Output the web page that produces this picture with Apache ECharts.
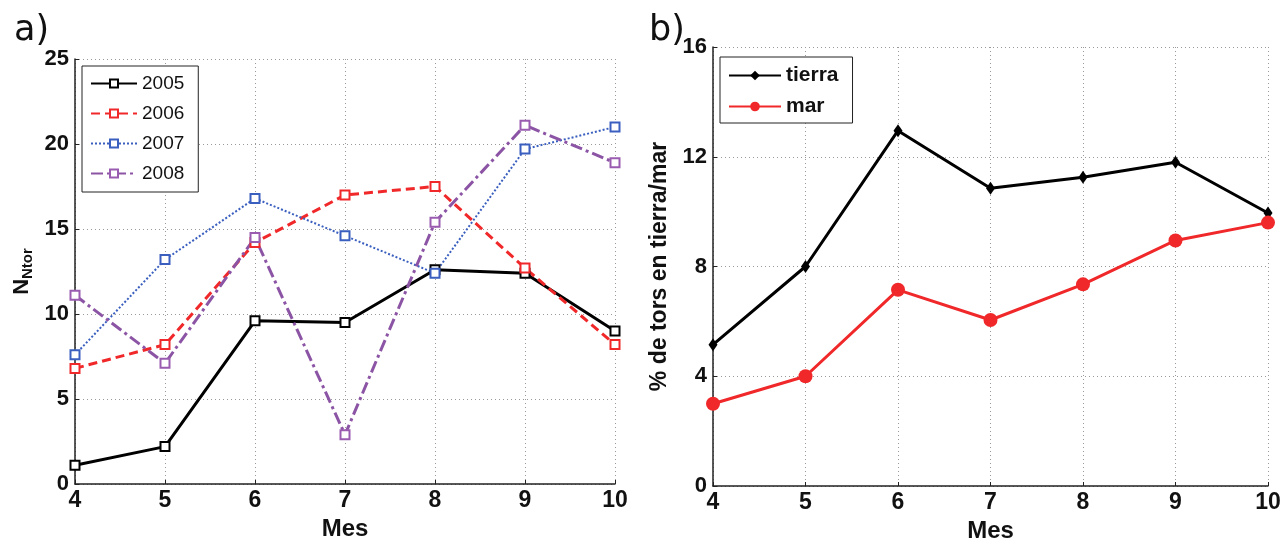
<!DOCTYPE html>
<html lang="en">
<head>
<meta charset="utf-8" />
<script src="https://cdn.jsdelivr.net/npm/echarts@6/dist/echarts.min.js"></script>
<title>Tornados por mes</title>
<style>
  html, body { margin: 0; padding: 0; background: #fff; }
  #chart { width: 1283px; height: 540px; }
</style>
</head>
<body>
<div id="chart"></div>
<script>
// meses (eje x)
var meses = [4, 5, 6, 7, 8, 9, 10];

// panel a) numero de tornados por año
var anios = ['2005', '2006', '2007', '2008'];
var n2005 = [1.1, 2.2, 9.6, 9.5, 12.6, 12.4, 9.0];
var n2006 = [6.8, 8.2, 14.2, 17.0, 17.5, 12.7, 8.2];
var n2007 = [7.6, 13.2, 16.8, 14.6, 12.4, 19.7, 21.0];
var n2008 = [11.1, 7.1, 14.5, 2.9, 15.4, 21.1, 18.9];

// panel b) porcentaje tierra / mar
var tierra = [5.15, 8.0, 12.95, 10.85, 11.25, 11.8, 9.95];
var mar = [3.0, 4.0, 7.15, 6.05, 7.35, 8.95, 9.6];

var ticksA = [0, 5, 10, 15, 20, 25];
var ticksB = [0, 4, 8, 12, 16];

function pares(xs, ys) {
  return xs.map(function (x, i) { return [x, ys[i]]; });
}

var fuente = '"Liberation Sans", Arial, sans-serif';
var grisGrid = { show: true, lineStyle: { color: '#999', type: [1, 3], width: 1 } };
var ejeLinea = { show: true, lineStyle: { color: '#222', width: 1.5 } };
var tickIn = { show: true, inside: true, length: 4, lineStyle: { color: '#222' } };

function ejeX(idx) {
  return {
    type: 'value', gridIndex: idx, min: 4, max: 10, interval: 1,
    name: 'Mes', nameLocation: 'middle', nameGap: 29,
    nameTextStyle: { fontFamily: fuente, fontWeight: 'bold', fontSize: 24, color: '#111' },
    axisLine: ejeLinea, axisTick: tickIn, splitLine: grisGrid,
    axisLabel: { fontFamily: fuente, fontWeight: 'bold', fontSize: 23, color: '#111', margin: 5 }
  };
}

var chart = echarts.init(document.getElementById('chart'));
var option = {
  animation: false,
  backgroundColor: '#fff',
  title: [
    { text: 'a)', left: 9, top: 8, textStyle: { fontFamily: 'DejaVu Sans', fontWeight: 'normal', fontSize: 35, color: '#111' } },
    { text: 'b)', left: 644, top: 8, textStyle: { fontFamily: 'DejaVu Sans', fontWeight: 'normal', fontSize: 35, color: '#111' } }
  ],
  grid: [
    { left: 75, top: 59, width: 540, height: 425, outerBoundsMode: 'none' },
    { left: 713, top: 47, width: 555, height: 439, outerBoundsMode: 'none' }
  ],
  legend: [
    {
      data: anios, left: 82, top: 66, orient: 'vertical',
      itemWidth: 46, itemHeight: 10, itemGap: 11,
      padding: [8, 14, 9, 8],
      borderColor: '#222', borderWidth: 1, backgroundColor: '#fff',
      textStyle: { fontFamily: fuente, fontSize: 19, color: '#111' }
    },
    {
      data: ['tierra', 'mar'], left: 720, top: 57, orient: 'vertical',
      itemWidth: 52, itemHeight: 12, itemGap: 10,
      padding: [8, 14, 6, 8],
      borderColor: '#222', borderWidth: 1, backgroundColor: '#fff',
      textStyle: { fontFamily: fuente, fontWeight: 'bold', fontSize: 21, color: '#111' }
    }
  ],
  xAxis: [ejeX(0), ejeX(1)],
  yAxis: [
    {
      type: 'value', gridIndex: 0, min: 0, max: 25, interval: 5,
      name: '{n|N}{s|Ntor}', nameLocation: 'middle', nameGap: 40,
      nameTextStyle: {
        color: '#111',
        rich: {
          n: { fontFamily: fuente, fontWeight: 'bold', fontSize: 22, color: '#111' },
          s: { fontFamily: fuente, fontWeight: 'bold', fontSize: 15, color: '#111', padding: [12, 0, 0, 0] }
        }
      },
      axisLine: ejeLinea, axisTick: tickIn, splitLine: grisGrid,
      axisLabel: {
        fontFamily: fuente, fontWeight: 'bold', fontSize: 22, color: '#111', margin: 6,
        formatter: function (v) { return ticksA.indexOf(v) >= 0 ? String(v) : ''; }
      }
    },
    {
      type: 'value', gridIndex: 1, min: 0, max: 16, interval: 4,
      name: '% de tors en tierra/mar', nameLocation: 'middle', nameGap: 42,
      nameTextStyle: { fontFamily: fuente, fontWeight: 'bold', fontSize: 23, color: '#111' },
      axisLine: ejeLinea, axisTick: tickIn, splitLine: grisGrid,
      axisLabel: {
        fontFamily: fuente, fontWeight: 'bold', fontSize: 22, color: '#111', margin: 6,
        formatter: function (v) { return ticksB.indexOf(v) >= 0 ? String(v) : ''; }
      }
    }
  ],
  series: [
    {
      name: '2005', type: 'line', xAxisIndex: 0, yAxisIndex: 0, data: pares(meses, n2005),
      symbol: 'emptyRect', symbolSize: 9,
      lineStyle: { color: '#000', width: 3, type: 'solid' },
      itemStyle: { color: '#000', borderColor: '#000', borderWidth: 2 }
    },
    {
      name: '2006', type: 'line', xAxisIndex: 0, yAxisIndex: 0, data: pares(meses, n2006),
      symbol: 'emptyRect', symbolSize: 9,
      lineStyle: { color: '#f0282a', width: 3, type: [9, 5] },
      itemStyle: { color: '#f0282a', borderColor: '#f0282a', borderWidth: 2 }
    },
    {
      name: '2007', type: 'line', xAxisIndex: 0, yAxisIndex: 0, data: pares(meses, n2007),
      symbol: 'emptyRect', symbolSize: 9,
      lineStyle: { color: '#3a5fbf', width: 2, type: [2, 2] },
      itemStyle: { color: '#3a5fbf', borderColor: '#3a5fbf', borderWidth: 2 }
    },
    {
      name: '2008', type: 'line', xAxisIndex: 0, yAxisIndex: 0, data: pares(meses, n2008),
      symbol: 'emptyRect', symbolSize: 9,
      lineStyle: { color: '#8c54a4', width: 3, type: [12, 4, 3, 4] },
      itemStyle: { color: '#9a5cb0', borderColor: '#9a5cb0', borderWidth: 2 }
    },
    {
      name: 'tierra', type: 'line', xAxisIndex: 1, yAxisIndex: 1, data: pares(meses, tierra),
      symbol: 'diamond', symbolSize: [9, 13],
      lineStyle: { color: '#000', width: 3 },
      itemStyle: { color: '#000' }
    },
    {
      name: 'mar', type: 'line', xAxisIndex: 1, yAxisIndex: 1, data: pares(meses, mar),
      symbol: 'circle', symbolSize: 14,
      lineStyle: { color: '#f0282a', width: 3 },
      itemStyle: { color: '#f0282a' }
    }
  ]
};
chart.setOption(option);
</script>
</body>
</html>
